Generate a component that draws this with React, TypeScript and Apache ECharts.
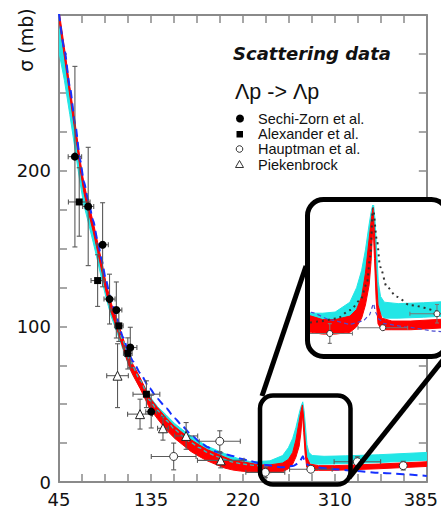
import React, { useEffect, useRef } from 'react';
import * as echarts from 'echarts';

// ---------- tick labels ----------
const xTickLabels = ['45', '135', '220', '310', '385'];
const yTickLabels = ['0', '100', '200'];

// ---------- model bands [x, low, high] ----------
const redBand: number[][] = [
  [45, 297, 303], [50, 273, 279], [55, 248, 254], [60, 224, 230], [64.5, 201, 207],
  [68, 186, 192], [72, 174, 180], [76.6, 161, 167], [80.7, 148, 154], [84.5, 135.5, 141.5],
  [88.3, 122.6, 128.6], [92.9, 109.7, 115.7], [98.2, 99, 105], [104.2, 86, 92.4], [110.4, 73, 79.6],
  [113.5, 68.5, 75.5], [120, 60, 67], [128.8, 47.3, 54.3], [136, 40.6, 47.8], [144.2, 33.5, 41.1],
  [152, 28, 35.6], [159.5, 23.8, 31.4], [167, 19.6, 27.2], [174.9, 16.3, 23.7], [182, 13.6, 20.8],
  [190.3, 11.2, 18.4], [198, 9, 16], [205.6, 7.7, 13.9], [213, 7, 13], [221, 6.6, 12.2],
  [230, 6, 11], [240, 6, 11], [251.7, 6.6, 12.2], [257, 8.5, 14.5], [261, 11.5, 19],
  [264, 16, 27], [267, 23, 39], [268.5, 31, 45], [270, 44, 49.5], [271.2, 32, 41],
  [272.5, 18, 27], [274, 9.5, 16], [277, 7.5, 11.5], [285, 7.5, 10.5], [300, 7.5, 10.5],
  [340, 8.5, 11.5], [385, 10, 13],
];

const cyanBand: number[][] = [
  [45, 276, 301], [50, 258, 277], [55, 236, 252], [60, 213, 228], [64.5, 192, 205],
  [68, 178, 190], [72, 167, 178], [76.6, 154, 165], [80.7, 142, 152], [84.5, 130, 139.5],
  [88.3, 119, 127], [92.9, 107, 114], [98.2, 97, 103.5], [104.2, 85, 91], [110.4, 73, 78.5],
  [113.5, 68.5, 74], [120, 60.5, 66], [128.8, 49, 55], [136, 43, 48.5], [144.2, 38, 43],
  [152, 33, 37.5], [159.5, 29, 33.4], [167, 25, 29.5], [174.9, 21.9, 26], [182, 18.5, 23],
  [190.3, 15.4, 20.6], [198, 13, 18.3], [205.6, 11, 16.3], [213, 10, 14.5], [221, 9.2, 13.2],
  [230, 9.4, 13.2], [240, 9.6, 13.6], [251.7, 10.5, 17], [257, 12.5, 22], [261, 15, 28],
  [264, 19, 35], [267, 27, 44], [268.5, 35, 48], [270.3, 46, 51.5], [271.5, 36, 46],
  [272.8, 24, 36], [274.2, 16, 24], [276, 13, 19], [279, 11.5, 17], [290, 11.5, 16.5],
  [310, 11.8, 16.8], [340, 12.5, 17.5], [385, 14, 19],
];

// ---------- model lines [x, y] ----------
const blueDashed: number[][] = [
  [45, 301], [50, 278], [55, 254], [60, 230], [64.5, 207], [68, 193], [72, 181], [76.6, 168],
  [80.7, 155], [84.5, 142.5], [88.3, 130], [92.9, 117], [98.2, 106], [104.2, 93], [110.4, 81],
  [113.5, 77.4], [120, 70], [128.8, 60.2], [136, 53.5], [144.2, 47.4], [152, 41], [159.5, 35.6],
  [167, 30.5], [174.9, 25.9], [182, 22.5], [190.3, 19.5], [198, 18], [205.6, 16.7], [213, 15],
  [221, 13.5], [236.4, 10.9], [251.7, 9.4], [262, 10.5], [267, 12.5], [270.5, 16.5], [272, 13.5],
  [275, 11], [279, 9.6], [297, 8.4], [320, 7], [343, 5.8], [385, 3.9],
];

const cyanDashed: number[][] = [
  [98.2, 103], [104.2, 90.5], [110.4, 78], [120, 65.5], [128.8, 52.5], [136, 46], [144.2, 39.5],
  [152, 33.8], [159.5, 29.5], [167, 25.3], [174.9, 22], [182, 19], [190.3, 16.5], [198, 14.5],
  [205.6, 12.8], [213, 11.8], [221, 11], [230, 10.4], [240, 10.4],
];

// model only shown in the zoomed inset
const insetModel: number[][] = [
  [220, 10], [226, 10.3], [241.5, 11.4], [252, 14.3], [260, 17.8], [265.2, 23.5], [267.8, 32.7],
  [270, 49.4], [273.1, 38.4], [275.7, 29.2], [281, 22.3], [288.8, 18.9], [299.3, 16], [324, 13.2],
];
const insetMarkers = [270, 271.8, 273.9];

// ---------- data points [x, y, xErr, yErr] ----------
const sechiZorn: number[][] = [
  [59.7, 209, 6.2, 58], [72.0, 177, 5.1, 38], [85.3, 152.4, 5.3, 27], [91.7, 117.5, 5.1, 16],
  [98.0, 110.5, 5.1, 18], [110.9, 86.4, 6.1, 13], [130.2, 45.2, 5, 10.5],
];
const alexander: number[][] = [
  [63.7, 179.9, 10, 22], [80.7, 129.4, 6.1, 16.6], [100.3, 100.3, 4, 10], [108.6, 82.6, 4, 10],
  [125.8, 56.4, 12.4, 8.6],
];
const hauptman: number[][] = [
  [151, 16.4, 20.7, 8.6], [193.6, 26.2, 19, 6.7], [235.7, 6.2, 18, 3.4], [277.8, 8.2, 19.7, 0],
  [320.8, 13, 21.5, 3.2], [363.2, 10.5, 0, 2.8],
];
const piekenbrock: number[][] = [
  [99.1, 68.3, 10, 20.5], [119.9, 43.6, 11.5, 9.6], [141.1, 34.5, 5, 7.6], [162.5, 29.6, 10.7, 8.6],
  [194.5, 13.9, 21.5, 4.8],
];

const TICK_FONT = 'DejaVu Sans';
const AXIS_GRAY = '#8a8a8a';

function bandSeries(name: string, band: number[][], color: string, xi: number, yi: number, z: number) {
  return {
    type: 'custom', name, xAxisIndex: xi, yAxisIndex: yi, z, clip: true, silent: true,
    data: band, encode: { x: 0, y: [1, 2] },
    renderItem: (params: any, api: any) => {
      if (params.dataIndex !== 0) return null;
      const top = band.map((d) => api.coord([d[0], d[2]]));
      const bot = band.map((d) => api.coord([d[0], d[1]])).reverse();
      return {
        type: 'polygon',
        shape: { points: top.concat(bot) },
        style: { fill: color, stroke: color, lineWidth: 1 },
      };
    },
  };
}

function errorSeries(name: string, pts: number[][], xi: number, yi: number, z: number, cap: number, color: string) {
  return {
    type: 'custom', name: name + ' errors', xAxisIndex: xi, yAxisIndex: yi, z, clip: true, silent: true,
    data: pts, encode: { x: 0, y: 1 },
    renderItem: (_p: any, api: any) => {
      const x = api.value(0), y = api.value(1), ex = api.value(2), ey = api.value(3);
      const c = api.coord([x, y]);
      const style = { stroke: color, lineWidth: 1.1 };
      const ln = (x1: number, y1: number, x2: number, y2: number) => ({ type: 'line', shape: { x1, y1, x2, y2 }, style });
      const children: any[] = [];
      if (ey > 0) {
        const t = api.coord([x, y + ey]);
        const b = api.coord([x, y - ey]);
        children.push(ln(c[0], t[1], c[0], b[1]), ln(c[0] - cap, t[1], c[0] + cap, t[1]), ln(c[0] - cap, b[1], c[0] + cap, b[1]));
      }
      if (ex > 0) {
        const l = api.coord([x - ex, y]);
        const r = api.coord([x + ex, y]);
        children.push(ln(l[0], c[1], r[0], c[1]), ln(l[0], c[1] - cap, l[0], c[1] + cap), ln(r[0], c[1] - cap, r[0], c[1] + cap));
      }
      return { type: 'group', children };
    },
  };
}

function scatterSeries(name: string, pts: number[][], symbol: string, size: number, fill: string, stroke: string | null, xi: number, yi: number, z: number) {
  return {
    type: 'scatter', name, xAxisIndex: xi, yAxisIndex: yi, z, silent: true, clip: true,
    symbol, symbolSize: size,
    data: pts.map((p) => [p[0], p[1]]),
    itemStyle: { color: fill, borderColor: stroke || fill, borderWidth: stroke ? 1 : 0, opacity: 1 },
  };
}

function lineSeries(name: string, data: number[][], color: string, width: number, dash: any, xi: number, yi: number, z: number, smooth = 0.2) {
  return {
    type: 'line', name, data, xAxisIndex: xi, yAxisIndex: yi, z, silent: true, clip: true,
    showSymbol: false, symbol: 'none', smooth, smoothMonotone: 'x',
    lineStyle: { color, width, type: dash },
  };
}

function buildOption(): any {
  const tickStyle = { show: true, inside: true, length: 8, lineStyle: { color: AXIS_GRAY, width: 1.5 } };
  const lineStyle = { show: true, onZero: false, lineStyle: { color: AXIS_GRAY, width: 2 } };
  const xBase = { type: 'value', gridIndex: 0, min: 45, max: 385, interval: 21.25, axisLine: lineStyle, axisTick: tickStyle, splitLine: { show: false } };
  const yBase = { type: 'value', gridIndex: 0, min: 0, max: 300, interval: 25, axisLine: lineStyle, axisTick: tickStyle, splitLine: { show: false } };

  const datasets = [
    { name: 'Sechi-Zorn et al.', pts: sechiZorn, symbol: 'circle', size: 8, fill: '#000', stroke: null },
    { name: 'Alexander et al.', pts: alexander, symbol: 'rect', size: 7, fill: '#000', stroke: null },
    { name: 'Hauptman et al.', pts: hauptman, symbol: 'circle', size: 8, fill: '#fff', stroke: '#333' },
    { name: 'Piekenbrock', pts: piekenbrock, symbol: 'triangle', size: 9, fill: '#fff', stroke: '#222' },
  ];

  const series: any[] = [];
  // main panel
  series.push(bandSeries('cyan band', cyanBand, '#22e6e6', 0, 0, 2));
  series.push(bandSeries('red band', redBand, '#ff0000', 0, 0, 3));
  series.push(lineSeries('cyan dashed', cyanDashed, '#27bfc4', 1.3, [4, 3], 0, 0, 4));
  series.push(lineSeries('blue dashed', blueDashed, '#1530ff', 2, [8, 5], 0, 0, 5));
  datasets.forEach((d) => series.push(errorSeries(d.name, d.pts, 0, 0, 6, 2.5, '#5a5a5a')));
  datasets.forEach((d) => series.push(scatterSeries(d.name, d.pts, d.symbol, d.size, d.fill, d.stroke, 0, 0, 7)));
  // inset panel
  series.push(bandSeries('inset cyan band', cyanBand, '#22e6e6', 2, 2, 12));
  series.push(bandSeries('inset red band', redBand, '#ff0000', 2, 2, 13));
  series.push({
    ...lineSeries('inset model', insetModel, '#333', 2, [2, 4], 2, 2, 14, 0.3),
    markLine: {
      silent: true, symbol: ['none', 'none'], label: { show: false }, animation: false,
      lineStyle: { type: 'dotted', color: '#9a9a9a', width: 1 },
      data: insetMarkers.map((x) => ({ xAxis: x })),
    },
  });
  series.push(lineSeries('inset blue dashed', blueDashed, '#4a4ad0', 1.2, [4, 3], 2, 2, 15));
  datasets.forEach((d) => series.push(errorSeries('inset ' + d.name, d.pts, 2, 2, 16, 2, '#777')));
  datasets.forEach((d) => series.push(scatterSeries('inset ' + d.name, d.pts, d.symbol, 6, d.fill, d.stroke, 2, 2, 17)));

  const txt = (text: string, x: number, y: number, size: number, family: string, extra: any = {}) => ({
    type: 'text', x, y, z: 30, silent: true,
    style: { text, fontSize: size, fontFamily: family, fill: '#111', align: 'left', textAlign: 'left', verticalAlign: 'middle', textVerticalAlign: 'middle', ...extra },
  });

  const graphic: any[] = [
    // inset white background and frame
    { type: 'rect', z: 10, silent: true, shape: { x: 307.5, y: 199.5, width: 140, height: 157, r: 16 }, style: { fill: '#fff' } },
    { type: 'rect', z: 25, silent: true, shape: { x: 307.5, y: 199.5, width: 140, height: 157, r: 16 }, style: { fill: 'none', stroke: '#000', lineWidth: 5 } },
    // small zoom box
    { type: 'rect', z: 25, silent: true, shape: { x: 260, y: 395.5, width: 90.5, height: 89, r: 13 }, style: { fill: 'none', stroke: '#000', lineWidth: 4.5 } },
    // connectors
    { type: 'line', z: 25, silent: true, shape: { x1: 262, y1: 396, x2: 306, y2: 266 }, style: { stroke: '#000', lineWidth: 5 } },
    { type: 'line', z: 25, silent: true, shape: { x1: 349, y1: 478, x2: 447, y2: 355 }, style: { stroke: '#000', lineWidth: 5 } },
    // axis title
    { type: 'text', x: 26, y: 40, rotation: Math.PI / 2, z: 30, silent: true,
      style: { text: 'σ (mb)', fontSize: 19, fontFamily: TICK_FONT, fill: '#111', align: 'center', textAlign: 'center', verticalAlign: 'middle', textVerticalAlign: 'middle' } },
    txt('Scattering data', 233, 53, 18, 'DejaVu Sans', { fontWeight: 'bold', fontStyle: 'italic' }),
    txt('Λp -> Λp', 235, 92, 21.5, 'Liberation Sans'),
    txt('Sechi-Zorn et al.', 258, 119, 14.5, 'Liberation Sans'),
    txt('Alexander et al.', 258, 134, 14.5, 'Liberation Sans'),
    txt('Hauptman et al.', 258, 149, 14.5, 'Liberation Sans'),
    txt('Piekenbrock', 258, 164.5, 14.5, 'Liberation Sans'),
    // legend markers
    { type: 'circle', z: 30, silent: true, shape: { cx: 240, cy: 118.5, r: 4 }, style: { fill: '#000' } },
    { type: 'rect', z: 30, silent: true, shape: { x: 236.5, y: 131, width: 6.5, height: 6.5 }, style: { fill: '#000' } },
    { type: 'circle', z: 30, silent: true, shape: { cx: 239.5, cy: 149, r: 3.3 }, style: { fill: '#fff', stroke: '#333', lineWidth: 1 } },
    { type: 'polygon', z: 30, silent: true, shape: { points: [[239.5, 160.5], [243.5, 167.5], [235.5, 167.5]] }, style: { fill: '#fff', stroke: '#333', lineWidth: 1 } },
  ];

  return {
    animation: false,
    backgroundColor: '#fff',
    grid: [
      { left: 59, right: 13, top: 15, bottom: 29 },
      { left: 310, right: 0, top: 205, bottom: 159.5 },
    ],
    xAxis: [
      {
        ...xBase, position: 'bottom',
        axisLabel: {
          show: true, interval: 0, showMinLabel: true, showMaxLabel: true, hideOverlap: false,
          margin: 8, fontSize: 18, fontFamily: TICK_FONT, color: '#111',
          formatter: (v: number) => {
            const k = Math.round((v - 45) / 21.25);
            if (k % 4 !== 0) return '';
            const t = xTickLabels[k / 4];
            return k === 16 ? `{r|${t}}` : t;
          },
          rich: { r: { padding: [0, 12, 0, 0], fontSize: 18, fontFamily: TICK_FONT, color: '#111' } },
        },
      },
      { ...xBase, position: 'top', axisLabel: { show: false } },
      { type: 'value', gridIndex: 1, min: 220, max: 324, show: false },
    ],
    yAxis: [
      {
        ...yBase, position: 'left',
        axisLabel: {
          show: true, margin: 8, fontSize: 18, fontFamily: TICK_FONT, color: '#111',
          formatter: (v: number) => (v % 100 === 0 && v < 300 ? yTickLabels[v / 100] : ''),
        },
      },
      { ...yBase, position: 'right', axisLabel: { show: false } },
      { type: 'value', gridIndex: 1, min: 0, max: 50.5, show: false },
    ],
    series,
    graphic,
  };
}

export default function App() {
  const ref = useRef<HTMLDivElement>(null);
  useEffect(() => {
    if (!ref.current) return;
    const chart = echarts.init(ref.current, null, { renderer: 'svg' });
    chart.setOption(buildOption());
    return () => chart.dispose();
  }, []);
  return (
    <div
      ref={ref}
      style={{ position: 'absolute', left: 0, top: 0, width: 441, height: 511, background: '#fff' }}
    />
  );
}
